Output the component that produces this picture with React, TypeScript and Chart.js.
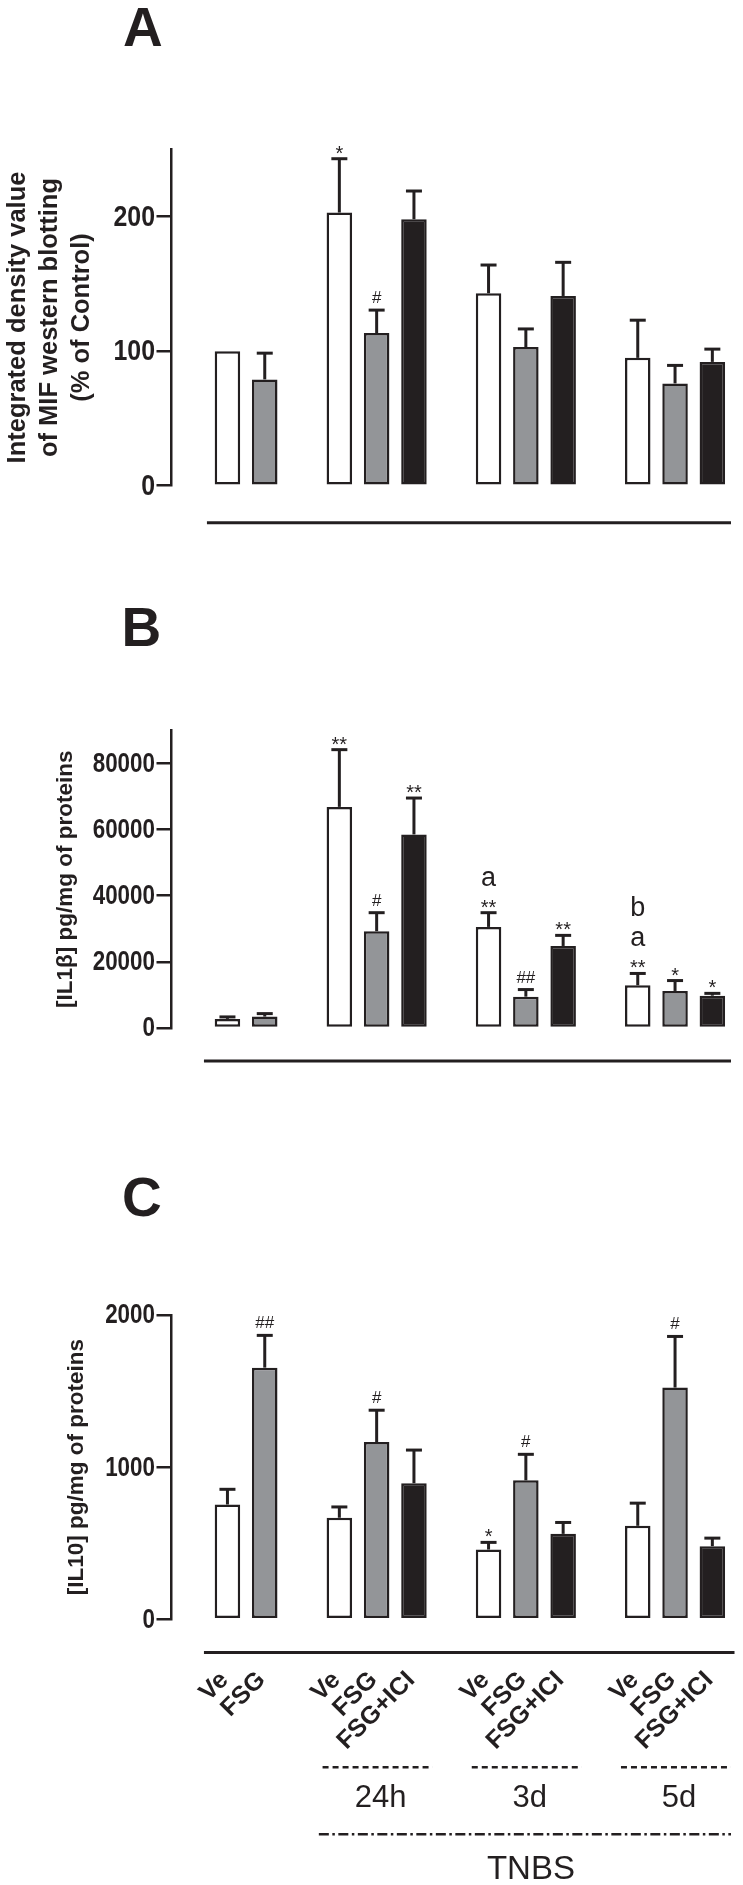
import React, { useEffect, useRef } from "react";
import { Chart, registerables } from "chart.js";

Chart.register(...registerables);

const INK = "#231f20";
const GREY = "#939598";
const SANS = "'Liberation Sans', Arial, Helvetica, sans-serif";

// Category slots (empty strings are the gaps between groups)
const categories = ["", "Ve", "FSG", "", "Ve", "FSG", "FSG+ICI", "", "Ve", "FSG", "FSG+ICI", "", "Ve", "FSG", "FSG+ICI"];

// Panel A: MIF western blotting (% of control)
const mifMean = [null, 100, 79, null, 203, 113.5, 198, null, 143, 103, 141, null, 95, 76, 92];
const mifSem = [null, 0, 19.5, null, 40, 17, 21, null, 21, 13.5, 25, null, 28, 13.4, 9.5];
const mifSig = ["", "", "", "", "*", "#", "", "", "", "", "", "", "", "", ""];
const mifTicks = [0, 100, 200];

// Panel B: IL1beta pg/mg of proteins
const il1bMean = [null, 2750, 3450, null, 66850, 29260, 58520, null, 30560, 9470, 24800, null, 12920, 11200, 9770];
const il1bSem = [null, 600, 900, null, 17300, 5600, 11000, null, 4300, 2150, 3200, null, 3570, 3140, 700];
const il1bSig = ["", "", "", "", "**", "#", "**", "", "a\n**", "##", "**", "", "b\na\n**", "*", "*"];
const il1bTicks = [0, 20000, 40000, 60000, 80000];

// Panel C: IL10 pg/mg of proteins
const il10Mean = [null, 754, 1654, null, 667, 1165, 894, null, 458, 913, 561, null, 614, 1523, 480];
const il10Sem = [null, 100, 212, null, 71, 209, 218, null, 47, 171, 75, null, 149, 336, 53];
const il10Sig = ["", "", "##", "", "", "#", "", "", "*", "#", "", "", "", "#", ""];
const il10Ticks = [0, 1000, 2000];

// Time-point groups under the TNBS bracket
const timeLabels = ["24h", "3d", "5d"];
const timeFirst = [4, 8, 12];
const timeLast = [6, 10, 14];
const modelLabel = "TNBS";

const fillFor: Record<string, string> = { Ve: "#ffffff", FSG: GREY, "FSG+ICI": INK };

function drawSig(ctx: CanvasRenderingContext2D, x: number, capY: number, text: string) {
  if (!text) return;
  const lines = text.split("\n").reverse();
  ctx.fillStyle = INK;
  ctx.textAlign = "center";
  ctx.textBaseline = "alphabetic";
  let letterY = capY - 27;
  lines.forEach((s) => {
    if (s.startsWith("*")) {
      ctx.font = `20px ${SANS}`;
      ctx.fillText(s, x, capY + 1);
    } else if (s.startsWith("#")) {
      ctx.font = `17px ${SANS}`;
      ctx.fillText(s, x, capY - 7);
    } else {
      ctx.font = `27px ${SANS}`;
      ctx.fillText(s, x, letterY);
      letterY -= 30;
    }
  });
}

type Spec = {
  mean: (number | null)[];
  sem: (number | null)[];
  sig: string[];
  ticks: number[];
  max: number;
  title: string | string[];
  titleSize: number;
  titleLH: number;
  titlePad: number;
  tickSize: number;
  padTop: number;
  padBottom: number;
  baseGap: number;
  baseLeft: number;
  baseRight: number;
  groups: boolean;
};

function makeConfig(spec: Spec): any {
  const overlay = {
    id: "overlay",
    afterDatasetsDraw(chart: any) {
      const { ctx } = chart;
      const y = chart.scales.y;
      const meta = chart.getDatasetMeta(0);
      ctx.save();
      meta.data.forEach((bar: any, i: number) => {
        const m = spec.mean[i];
        if (m == null) return;
        const s = spec.sem[i] || 0;
        const yBar = y.getPixelForValue(m);
        const yCap = y.getPixelForValue(m + s);
        if (s > 0) {
          ctx.strokeStyle = INK;
          ctx.lineWidth = 3;
          ctx.lineCap = "butt";
          ctx.beginPath();
          ctx.moveTo(bar.x, yBar);
          ctx.lineTo(bar.x, yCap);
          ctx.stroke();
          ctx.beginPath();
          ctx.moveTo(bar.x - 8, yCap);
          ctx.lineTo(bar.x + 8, yCap);
          ctx.stroke();
        }
        drawSig(ctx, bar.x, yCap, spec.sig[i]);
      });
      ctx.restore();
    },
    afterDraw(chart: any) {
      const { ctx, chartArea } = chart;
      const xs = chart.scales.x;
      const ys = chart.scales.y;
      const base = chartArea.bottom;
      const slot = xs.getPixelForValue(1) - xs.getPixelForValue(0);
      ctx.save();
      // y tick labels (condensed bold, like the original)
      ctx.fillStyle = INK;
      ctx.font = `bold ${spec.tickSize}px ${SANS}`;
      ctx.textAlign = "right";
      ctx.textBaseline = "middle";
      spec.ticks.forEach((v) => {
        ctx.save();
        ctx.translate(chartArea.left - 16.5, ys.getPixelForValue(v) + 1);
        ctx.scale(0.83, 1);
        ctx.fillText(String(v), 0, 0);
        ctx.restore();
      });
      // baseline under the bars
      ctx.strokeStyle = INK;
      ctx.lineWidth = 3;
      ctx.beginPath();
      ctx.moveTo(xs.getPixelForValue(1) + spec.baseLeft * slot, base + spec.baseGap);
      ctx.lineTo(chartArea.right + spec.baseRight, base + spec.baseGap);
      ctx.stroke();
      if (spec.groups) {
        // category labels, rotated 45 degrees
        ctx.font = `bold 25px ${SANS}`;
        ctx.textAlign = "right";
        ctx.textBaseline = "middle";
        categories.forEach((lab, i) => {
          if (!lab) return;
          ctx.save();
          ctx.translate(xs.getPixelForValue(i) - 3, base + 57);
          ctx.rotate(-Math.PI / 4);
          ctx.fillText(lab, 0, 0);
          ctx.restore();
        });
        ctx.textAlign = "center";
        ctx.textBaseline = "alphabetic";
        ctx.lineWidth = 2.5;
        timeLabels.forEach((t, g) => {
          const x0 = xs.getPixelForValue(timeFirst[g]) - 0.45 * slot;
          const x1 = xs.getPixelForValue(timeLast[g]) + 0.5 * slot;
          ctx.setLineDash([6, 4]);
          ctx.beginPath();
          ctx.moveTo(x0, base + 148);
          ctx.lineTo(x1, base + 148);
          ctx.stroke();
          ctx.font = `31px ${SANS}`;
          ctx.fillText(t, (x0 + x1) / 2 + 3, base + 188);
        });
        const l0 = xs.getPixelForValue(timeFirst[0]) - 0.55 * slot;
        const l1 = xs.getPixelForValue(timeLast[timeLast.length - 1]) + 0.5 * slot;
        ctx.setLineDash([10, 3.5, 2.5, 3.5]);
        ctx.beginPath();
        ctx.moveTo(l0, base + 215);
        ctx.lineTo(l1, base + 215);
        ctx.stroke();
        ctx.setLineDash([]);
        ctx.font = `33px ${SANS}`;
        ctx.fillText(modelLabel, (l0 + l1) / 2 + 6, base + 260);
      }
      ctx.restore();
    },
  };

  return {
    type: "bar",
    data: {
      labels: categories,
      datasets: [
        {
          data: spec.mean,
          backgroundColor: categories.map((c) => fillFor[c] || "rgba(0,0,0,0)"),
          borderColor: INK,
          borderWidth: 2.5,
          borderSkipped: false,
          barPercentage: 0.684,
          categoryPercentage: 1,
        },
      ],
    },
    options: {
      responsive: false,
      maintainAspectRatio: false,
      animation: false,
      events: [],
      layout: { padding: { top: spec.padTop, bottom: spec.padBottom, left: 0, right: 12 } },
      plugins: { legend: { display: false }, tooltip: { enabled: false } },
      scales: {
        x: {
          type: "category",
          display: false,
          offset: true,
        },
        y: {
          type: "linear",
          min: 0,
          max: spec.max,
          afterBuildTicks: (s: any) => {
            s.ticks = spec.ticks.map((v) => ({ value: v }));
          },
          afterFit: (s: any) => {
            s.width = 171.5;
          },
          ticks: { display: false },
          grid: { drawOnChartArea: false, drawTicks: true, tickLength: 15, color: INK, lineWidth: 2.5 },
          border: { display: true, color: INK, width: 2.5 },
          title: {
            display: true,
            text: spec.title,
            color: INK,
            font: { family: SANS, weight: "bold", size: spec.titleSize, lineHeight: spec.titleLH },
            padding: { top: spec.titlePad, bottom: 0 },
          },
        },
      },
    },
    plugins: [overlay],
  };
}

function Panel({ top, height, spec }: { top: number; height: number; spec: Spec }) {
  const ref = useRef<HTMLCanvasElement>(null);
  useEffect(() => {
    const chart = new Chart(ref.current as HTMLCanvasElement, makeConfig(spec));
    return () => chart.destroy();
  }, []);
  return (
    <canvas
      ref={ref}
      width={743}
      height={height}
      style={{ position: "absolute", left: 0, top, width: 743, height, display: "block" }}
    />
  );
}

const letterStyle = (left: number, top: number): React.CSSProperties => ({
  position: "absolute",
  left,
  top,
  fontFamily: SANS,
  fontWeight: "bold",
  fontSize: 55,
  lineHeight: "55px",
  color: INK,
});

export default function App() {
  const specA: Spec = {
    mean: mifMean, sem: mifSem, sig: mifSig, ticks: mifTicks, max: 250,
    title: ["Integrated density value", "of MIF western blotting", "(% of Control)"],
    titleSize: 25.5, titleLH: 1.255, titlePad: 1.8, tickSize: 30,
    padTop: 149.3, padBottom: 74.3, baseGap: 37, baseLeft: -0.55, baseRight: 0, groups: false,
  };
  const specB: Spec = {
    mean: il1bMean, sem: il1bSem, sig: il1bSig, ticks: il1bTicks, max: 90000,
    title: "[IL1β] pg/mg of proteins",
    titleSize: 22.5, titleLH: 1.2, titlePad: 52.5, tickSize: 27,
    padTop: 170.3, padBottom: 92, baseGap: 33, baseLeft: -0.63, baseRight: 0, groups: false,
  };
  const specC: Spec = {
    mean: il10Mean, sem: il10Sem, sig: il10Sig, ticks: il10Ticks, max: 2000,
    title: "[IL10] pg/mg of proteins",
    titleSize: 22.5, titleLH: 1.2, titlePad: 63.5, tickSize: 27,
    padTop: 195, padBottom: 265.8, baseGap: 33.3, baseLeft: -0.63, baseRight: 3.5, groups: true,
  };
  return (
    <div style={{ position: "absolute", left: 0, top: 0, width: 743, height: 1885, background: "#fff", overflow: "hidden" }}>
      <Panel top={0} height={560} spec={specA} />
      <Panel top={560} height={560} spec={specB} />
      <Panel top={1120} height={765} spec={specC} />
      <div style={letterStyle(123, 0)}>A</div>
      <div style={letterStyle(121.5, 600)}>B</div>
      <div style={letterStyle(122, 1170)}>C</div>
    </div>
  );
}
